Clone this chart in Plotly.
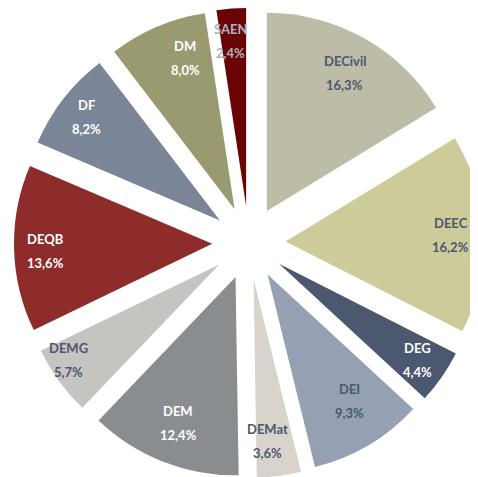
import math
import plotly.graph_objects as go

labels = ["DECivil", "DEEC", "DEG", "DEI", "DEMat", "DEM", "DEMG", "DEQB", "DF", "DM", "SAEN"]
values = [16.3, 16.2, 4.4, 9.3, 3.6, 12.4, 5.7, 13.6, 8.2, 8.0, 2.4]
pct_text = ["16,3%", "16,2%", "4,4%", "9,3%", "3,6%", "12,4%", "5,7%", "13,6%", "8,2%", "8,0%", "2,4%"]

colors = ["#bdbda7", "#cecb9a", "#4b5870", "#95a0b2", "#d8d4cc", "#8a8d90",
          "#c6c4c0", "#8e2c2c", "#7a8698", "#9a9a70", "#6a0404"]
text_colors = ["#4a5870", "#4a5870", "#ffffff", "#4a5870", "#4a5870", "#ffffff",
               "#4a5870", "#ffffff", "#ffffff", "#ffffff", "#aab4c4"]
# label placement style: radial fraction of radius and angular nudge (degrees)
label_radius = [0.80, 0.835, 0.85, 0.76, 0.82, 0.79, 0.90, 0.84, 0.85, 0.80, 0.84]
label_nudge = [0, 0, 0, -2, 2, 0, 3, -1, 0, 4, -1]

W, H = 478, 477
PULL = 0.185
DOM_X = [0.008, 1.0]
DOM_Y = [0.015, 1.0]

fig = go.Figure(go.Pie(
    labels=labels,
    values=values,
    textinfo="none",
    sort=False,
    direction="clockwise",
    rotation=0,
    pull=[PULL] * len(values),
    marker=dict(colors=colors, line=dict(width=0)),
    hoverinfo="label+percent",
    showlegend=False,
    domain=dict(x=DOM_X, y=DOM_Y),
))

# label positions derived from the pie geometry (same formula plotly uses)
dw = (DOM_X[1] - DOM_X[0]) * W
dh = (DOM_Y[1] - DOM_Y[0]) * H
R = min(dw, dh) / (2 + 2 * PULL)
cx = (DOM_X[0] + DOM_X[1]) / 2 * W
cy = (1 - (DOM_Y[0] + DOM_Y[1]) / 2) * H
total = sum(values)
cum = 0.0
annotations = []
for lab, pct, v, tc, lr, ln in zip(labels, pct_text, values, text_colors, label_radius, label_nudge):
    mid = (cum + v / 2) / total * 2 * math.pi + math.radians(ln)
    cum += v
    r = R * PULL + R * lr
    px = cx + r * math.sin(mid)
    py = cy - r * math.cos(mid)
    for txt, dy in ((lab, -12), (pct, 12)):
        annotations.append(dict(
            x=px / W, y=1 - (py + dy) / H, xref="paper", yref="paper",
            text=txt, showarrow=False, xanchor="center", yanchor="middle",
            font=dict(family="Lato", size=13, color=tc, weight="bold"),
        ))

fig.update_layout(
    width=W, height=H,
    margin=dict(l=0, r=0, t=0, b=0),
    paper_bgcolor="white",
    plot_bgcolor="white",
    annotations=annotations,
)

fig.write_html("out.html")
